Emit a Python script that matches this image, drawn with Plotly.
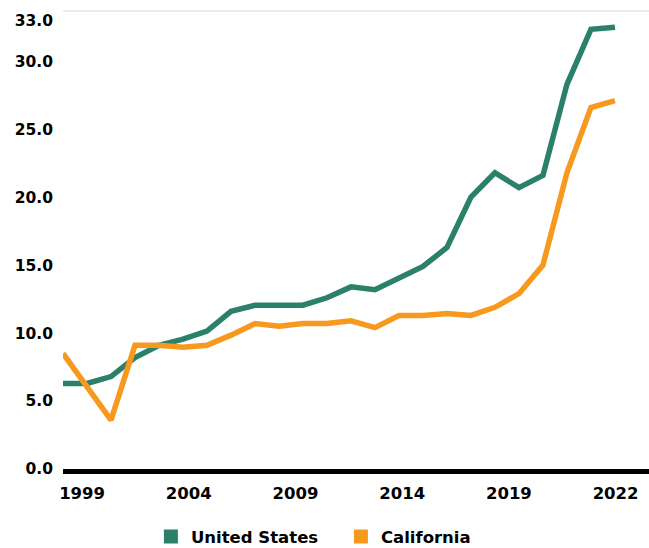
import plotly.graph_objects as go

years = list(range(1999, 2023))
us_values = [6.3, 6.3, 6.8, 8.2, 9.1, 9.55, 10.15, 11.6, 12.05, 12.05, 12.05, 12.6,
             13.4, 13.2, 14.0, 14.9, 16.3, 20.0, 21.8, 20.7, 21.6, 28.3, 32.35, 32.5]
ca_values = [8.5, 6.0, 3.6, 9.1, 9.1, 8.95, 9.1, 9.85, 10.7, 10.5, 10.7, 10.7,
             10.9, 10.4, 11.3, 11.3, 11.45, 11.3, 11.9, 12.9, 15.0, 21.8, 26.6, 27.1]
x_tick_labels = ["1999", "2004", "2009", "2014", "2019", "2022"]
y_label_vals = [0, 5, 10, 15, 20, 25, 30, 33]
y_grid_vals = [5, 10, 15, 20, 25, 30]

GREEN = "#2a8069"
ORANGE = "#f7991f"
GRID = "#e9e5d6"
FONT = "DejaVu Sans"

fig = go.Figure()
fig.add_trace(go.Scatter(x=years, y=us_values, mode="lines", name="United States",
                         line=dict(color=GREEN, width=5.5), showlegend=False))
fig.add_trace(go.Scatter(x=years, y=ca_values, mode="lines", name="California",
                         line=dict(color=ORANGE, width=5.5), showlegend=False))
# legend entries (square swatches)
fig.add_trace(go.Scatter(x=[None], y=[None], mode="markers", name="United States",
                         marker=dict(symbol="square", size=14, color=GREEN)))
fig.add_trace(go.Scatter(x=[None], y=[None], mode="markers", name="California",
                         marker=dict(symbol="square", size=14, color=ORANGE)))
# dummy trace for category label axis
fig.add_trace(go.Scatter(x=x_tick_labels, y=[None] * len(x_tick_labels), xaxis="x2",
                         mode="markers", showlegend=False, hoverinfo="skip"))

YMAX = 33.7
fig.update_layout(
    width=649, height=548,
    margin=dict(l=63, r=0, t=11, b=79, autoexpand=False),
    paper_bgcolor="white", plot_bgcolor="white",
    font=dict(family=FONT, color="black"),
    xaxis=dict(range=[1999, 2023.42], showgrid=False, zeroline=False,
               showticklabels=False, ticks="", showline=True, linecolor="black",
               linewidth=5),
    xaxis2=dict(overlaying="x", anchor="y", side="bottom", type="category",
                range=[-0.179, 5.313], showgrid=False, zeroline=False, ticks="",
                showline=False, tickfont=dict(size=16.5, family=FONT, weight="bold"),
                ticklabelstandoff=12),
    yaxis=dict(range=[0, YMAX], tickvals=y_label_vals,
               ticktext=[f"{v:.1f}" for v in y_label_vals],
               showgrid=False, zeroline=False, ticks="",
               tickfont=dict(size=15.5, family=FONT, weight="bold"),
               ticklabelstandoff=9),
    yaxis2=dict(overlaying="y", range=[0, YMAX], tickvals=y_grid_vals,
                showticklabels=False, showgrid=True, gridcolor=GRID, gridwidth=1.5,
                zeroline=False, ticks="", side="left"),
    legend=dict(orientation="h", x=0.15, xanchor="left", y=-0.148, yanchor="middle",
                font=dict(size=16.5, family=FONT, weight="bold"), itemwidth=30,
                entrywidth=145, entrywidthmode="pixels",
                traceorder="normal"),
    shapes=[dict(type="line", xref="paper", yref="paper", x0=0, x1=1, y0=1, y1=1,
                 line=dict(color=GRID, width=1.5), layer="below")],
)

fig.write_html("out.html")
